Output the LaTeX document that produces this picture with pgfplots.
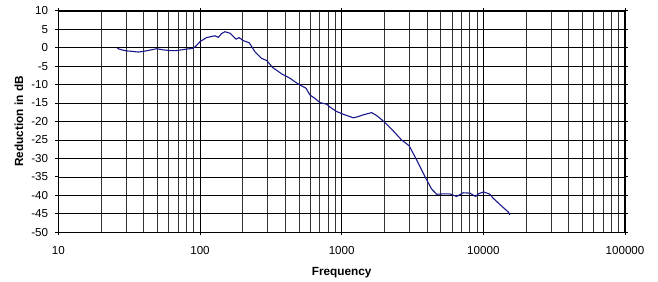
\documentclass[border=0pt]{standalone}
\usepackage{pgfplots}
\pgfplotsset{compat=1.18}
\usetikzlibrary{calc}
\usepackage{fontspec}
\setmainfont{Liberation Sans}
\definecolor{curve}{RGB}{25,25,140}
\begin{document}
\begin{tikzpicture}
\begin{axis}[
  scale only axis,
  width=566.7pt, height=221.6pt,
  xmode=log,
  xmin=10, xmax=100000,
  ymin=-50, ymax=10,
  xtick={10,100,1000,10000,100000},
  xticklabels={10,100,1000,10000,100000},
  ytick={-50,-45,...,10},
  /pgf/number format/assume math mode=true,
  ticklabel style={font=\fontsize{11.6}{13}\selectfont},
  grid=both,
  major grid style={black, line width=0.7pt},
  minor grid style={black!80, line width=0.6pt},
  tick align=outside,
  major tick length=3pt,
  minor tick length=0pt,
  tick style={black, line width=0.8pt},
  axis line style={black, line width=1.1pt},
  xticklabel style={anchor=center, yshift=-15.7pt},
  yticklabel style={anchor=east, inner sep=0pt, xshift=-7pt},
  xlabel={Frequency},
  ylabel={Reduction in dB},
  every axis x label/.style={at={(rel axis cs:0.5,0)}, yshift=-40pt, anchor=center, font=\fontsize{11.8}{13}\selectfont\bfseries},
  every axis y label/.style={at={(rel axis cs:0,0.5)}, xshift=-39.3pt, rotate=90, anchor=center, font=\fontsize{11.8}{13}\selectfont\bfseries},
]
\addplot[curve, line width=1.1pt] coordinates {
(26.1,-0.2) (28,-0.6) (30.4,-0.9) (33,-1.0) (36.7,-1.2) (40,-1.0) (44,-0.7) (49.5,-0.3) (55,-0.6) (61.4,-0.8) (68,-0.8) (74.2,-0.6) (80,-0.4) (88.8,-0.2) (93,0.3) (100,1.6) (111,2.7) (120,3.0) (127.6,3.2) (134.7,2.8) (142,3.8) (150,4.3) (163,3.9) (172,3.0) (179.6,2.3) (189,2.7) (202,1.9) (223,1.3) (244,-1.1) (272,-2.9) (296,-3.5) (326,-5.4) (350,-6.2) (377,-7.1) (432,-8.3) (470,-9.3) (508,-10.1) (560,-11.0) (597,-12.8) (650,-13.8) (703,-14.9) (783,-15.3) (826,-16.1) (922,-17.3) (1055,-18.2) (1208,-19.0) (1300,-18.7) (1420,-18.2) (1628,-17.6) (1750,-18.3) (1864,-19.1) (2022,-20.3) (2254,-22.1) (2650,-25.0) (3000,-26.6) (3380,-30.4) (3870,-34.9) (4316,-38.3) (4685,-39.7) (5200,-39.6) (5810,-39.6) (6475,-40.3) (7215,-39.3) (8040,-39.4) (8820,-40.3) (9300,-39.5) (10100,-39.1) (11140,-39.7) (11750,-40.8) (13460,-42.9) (15000,-44.5) (15420,-45.3)
};
\draw[black, line width=2pt] (rel axis cs:0,1) -- (rel axis cs:1,1) -- (rel axis cs:1,0);
\end{axis}
\pgfresetboundingbox
\path[use as bounding box] ($(current axis.south west)+(-58.3pt,-49.7pt)$) rectangle ($(current axis.north east)+(33pt,10.7pt)$);
\end{tikzpicture}
\end{document}
